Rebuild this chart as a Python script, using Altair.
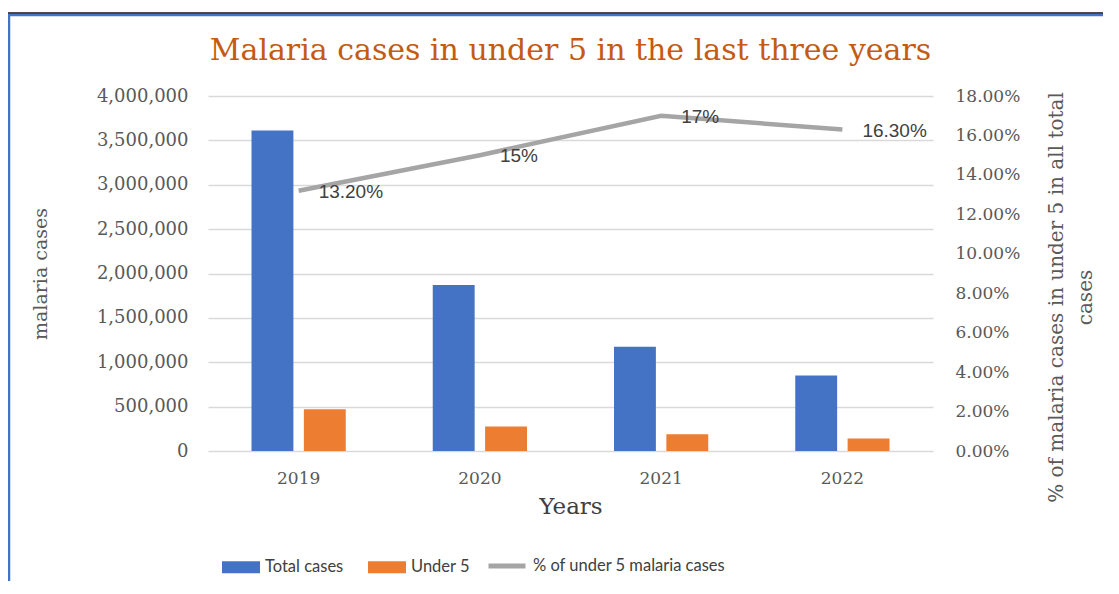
import altair as alt
import pandas as pd

# ---- data ----
years = ["2019", "2020", "2021", "2022"]
total_cases = [3610000, 1870000, 1175000, 850000]
under_5 = [470000, 277000, 190000, 140000]
pct_under5 = [0.132, 0.15, 0.17, 0.163]
pct_labels = ["13.20%", "15%", "17%", "16.30%"]

bar_series = ["Total cases", "Under 5"]
bar_colors = ["#4472C4", "#ED7D31"]
line_series = ["% of under 5 malaria cases"]
line_colors = ["#A5A5A5"]
left_ticks = [0, 500000, 1000000, 1500000, 2000000, 2500000, 3000000, 3500000, 4000000]
right_ticks = [0, 0.02, 0.04, 0.06, 0.08, 0.10, 0.12, 0.14, 0.16, 0.18]

bars_df = pd.DataFrame(
    {
        "year": years * 2,
        "series": [bar_series[0]] * 4 + [bar_series[1]] * 4,
        "value": total_cases + under_5,
    }
)
line_df = pd.DataFrame(
    {"year": years, "pct": pct_under5, "label": pct_labels, "series": line_series * 4}
)
frame_df = pd.DataFrame({"k": [0]})

SERIF = "DejaVu Serif"
SANS = "Liberation Sans"
LEG = "Lato"

x_enc = alt.X(
    "year:N",
    sort=years,
    scale=alt.Scale(paddingInner=0.48, paddingOuter=0.24),
    axis=alt.Axis(
        title="Years",
        labelAngle=0,
        labelPadding=19,
        labelFontSize=17,
        titleFontSize=23,
        titlePadding=9,
        titleColor="#404040",
        grid=False,
        domain=False,
        ticks=False,
    ),
)

right_axis = alt.Axis(
    orient="right",
    title=["% of malaria cases in under 5 in all total", "cases"],
    titleAngle=270,
    titleY=201,
    titleLineHeight=29,
    values=right_ticks,
    tickCount=10,
    format=".2%",
    labelPadding=22,
    labelFontSize=17,
    labelOverlap=False,
    titleFontSize=20,
    titlePadding=18,
    grid=False,
    domain=False,
    ticks=False,
)
right_scale = alt.Scale(domain=[0, 0.18], nice=False)

bars = (
    alt.Chart(bars_df)
    .mark_bar()
    .encode(
        x=x_enc,
        xOffset=alt.XOffset("series:N", sort=bar_series, scale=alt.Scale(paddingInner=0.2)),
        y=alt.Y(
            "value:Q",
            scale=alt.Scale(domain=[0, 4000000], nice=False),
            axis=alt.Axis(
                title="malaria cases",
                values=left_ticks,
                format=",.0f",
                labelPadding=20,
                labelFontSize=18,
                titleFontSize=19,
                titlePadding=46,
                grid=True,
                gridColor="#D9D9D9",
                gridWidth=1.3,
                domain=False,
                ticks=False,
            ),
        ),
        color=alt.Color(
            "series:N",
            sort=bar_series,
            scale=alt.Scale(domain=bar_series, range=bar_colors),
            legend=alt.Legend(
                orient="none",
                legendX=14,
                legendY=452,
                direction="horizontal",
                title=None,
                symbolType="M-1,-0.32L1,-0.32L1,0.32L-1,0.32Z",
                symbolSize=1444,
                symbolStrokeWidth=0,
                labelFont=LEG,
                labelFontSize=16.5,
                labelColor="#404040",
                labelOffset=5,
                labelLimit=400,
                columnPadding=24,
            ),
        ),
    )
)

line = (
    alt.Chart(line_df)
    .mark_line(strokeWidth=4.5)
    .encode(
        x=alt.X("year:N", sort=years),
        y=alt.Y("pct:Q", scale=right_scale, axis=right_axis),
        stroke=alt.Stroke(
            "series:N",
            scale=alt.Scale(domain=line_series, range=line_colors),
            legend=alt.Legend(
                orient="none",
                legendX=278,
                legendY=449,
                direction="horizontal",
                title=None,
                symbolType="stroke",
                symbolSize=1369,
                symbolStrokeWidth=5,
                labelFont=LEG,
                labelFontSize=16.5,
                labelColor="#404040",
                labelOffset=5,
                labelLimit=400,
            ),
        ),
    )
)

labels = (
    alt.Chart(line_df)
    .mark_text(align="left", baseline="middle", dx=20, dy=1, font=SANS, fontSize=19, color="#404040")
    .encode(
        x=alt.X("year:N", sort=years),
        y=alt.Y("pct:Q", scale=right_scale, axis=right_axis),
        text="label:N",
    )
)

# decorative frame edges of the original picture
frame_left = alt.Chart(frame_df).mark_rule(color="#4472C4", strokeWidth=2.5).encode(
    x=alt.value(-199), y=alt.value(-82), y2=alt.value(500)
)
frame_top = alt.Chart(frame_df).mark_rule(color="#4472C4", strokeWidth=2.5).encode(
    x=alt.value(-200), x2=alt.value(920), y=alt.value(-81)
)
frame_top_dark = alt.Chart(frame_df).mark_rule(color="#111111", strokeWidth=1.5).encode(
    x=alt.value(-200), x2=alt.value(920), y=alt.value(-83)
)

chart = (
    alt.layer(bars, alt.layer(line, labels), frame_left, frame_top, frame_top_dark)
    .resolve_scale(y="independent")
    .properties(
        width=725,
        height=355,
        autosize=alt.AutoSizeParams(type="none"),
        padding={"left": 200, "top": 88, "right": 170, "bottom": 130},
        title=alt.TitleParams(
            "Malaria cases in under 5 in the last three years",
            font=SERIF,
            fontSize=30,
            fontWeight="normal",
            color="#C55A11",
            anchor="middle",
            frame="group",
            offset=-54,
        ),
    )
    .configure(background="white")
    .configure_view(stroke=None)
    .configure_axis(
        labelFont=SERIF,
        titleFont=SERIF,
        labelColor="#595959",
        titleColor="#595959",
        titleFontWeight="normal",
    )
)

chart.save("out.html", embed_options={"renderer": "svg", "actions": False})
